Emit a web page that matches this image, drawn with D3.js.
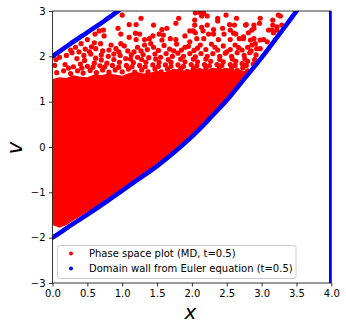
<!DOCTYPE html>
<html lang="en">
<head>
    <meta charset="UTF-8">
    <title>Phase space plot</title>
    <script src="https://cdnjs.cloudflare.com/ajax/libs/d3/7.8.5/d3.min.js"></script>
    <style>
        body{
            margin: 0;
            background: white;
            font-family: "DejaVu Sans", sans-serif;
        }
        .axis{
            font-family: "DejaVu Sans", sans-serif;
            font-size: 10px;
        }
        .axis text{
            fill: black;
        }
        .axis .tick line{
            stroke: black;
            stroke-width: .8;
        }
        .axis path{
            display: none;
        }
    </style>
</head>
<body>
<svg id="main" width="346" height="330" viewBox="0 0 346 330"></svg>
<script>
    const xTicks = [0, 0.5, 1, 1.5, 2, 2.5, 3, 3.5, 4];
    const vTicks = [-3, -2, -1, 0, 1, 2, 3];
    const legendLabels = ["Phase space plot (MD, t=0.5)", "Domain wall from Euler equation (t=0.5)"];

    // the solid part of the red cloud, read as x / lower edge / upper edge
    const coreX = [0, .1, .2, .3, .4, .5, .6, .7, .8, .9, 1, 1.1, 1.2, 1.3, 1.4, 1.5, 1.6, 1.7, 1.8, 1.9, 2, 2.1, 2.2, 2.3, 2.4, 2.5, 2.6, 2.7, 2.8];
    const coreLow = [-1.72, -1.78, -1.72, -1.62, -1.53, -1.44, -1.34, -1.24, -1.13, -1.03, -.92, -.81, -.7, -.59, -.48, -.37, -.26, -.14, -.02, .11, .25, .42, .58, .74, .9, 1.07, 1.26, 1.44, 1.62];
    const coreHigh = [1.5, 1.54, 1.52, 1.58, 1.55, 1.54, 1.6, 1.58, 1.62, 1.6, 1.57, 1.63, 1.66, 1.62, 1.64, 1.68, 1.65, 1.7, 1.72, 1.68, 1.71, 1.74, 1.7, 1.75, 1.72, 1.74, 1.71, 1.7, 1.66];

    // single red dots above the solid part, by band
    const dotsLow = [[.06,1.64],[.16,1.68],[.26,1.62],[.36,1.68],[.44,1.63],[.54,1.69],[.63,1.64],[.72,1.7],[.81,1.65],[.9,1.7],[1,1.66],[1.09,1.72],[1.18,1.65],[1.28,1.7],[1.37,1.66],[1.47,1.72],[1.56,1.66],[1.65,1.72],[1.74,1.67],[1.84,1.73],[1.93,1.67],[2.02,1.73],[2.12,1.68],[2.2,1.74],[2.3,1.68],[2.39,1.74],[2.48,1.69],[2.57,1.74],[2.65,1.69],[2.73,1.75],[2.8,1.68],
        [.23,1.74],[.42,1.74],[.58,1.76],[.75,1.77],[.95,1.76],[1.14,1.77],[1.33,1.77],[1.52,1.78],[1.7,1.78],[1.88,1.78],[2.07,1.79],[2.25,1.79],[2.43,1.8],[2.62,1.8],[2.78,1.8]];
    const dotsMid = [[.03,1.8],[.18,1.82],[.3,1.77],[.4,1.83],[.5,1.78],[.6,1.85],[.68,1.79],[.78,1.85],[.86,1.8],[.96,1.87],[1.06,1.8],[1.16,1.86],[1.25,1.8],[1.34,1.87],[1.44,1.81],[1.53,1.87],[1.62,1.81],[1.7,1.87],[1.8,1.81],[1.9,1.88],[1.99,1.82],[2.08,1.88],[2.18,1.82],[2.27,1.89],[2.36,1.82],[2.45,1.88],[2.55,1.82],[2.63,1.89],[2.72,1.84],[2.8,1.89],[2.88,1.83],
        [.05,1.93],[.1,1.98],[.2,2.02],[.28,2.08],[.35,1.95],[.45,2.02],[.55,2.05],[.62,1.96],[.7,2.03],[.8,2],[.88,2.05],[.97,2.02],[1.05,1.95],[1.13,2.03],[1.22,1.98],[1.3,2.04],[1.38,1.97],[1.47,2.05],[1.55,1.98],[1.63,2.06],[1.72,2],[1.8,2.07],[1.88,2],[1.97,2.06],[2.05,1.99],[2.13,2.06],[2.22,2],[2.3,2.06],[2.4,2],[2.48,2.07],[2.57,2],[2.65,2.08],[2.75,2.02],[2.83,2.08],[2.92,2.03],
        [.46,1.91],[.7,1.92],[.88,1.93],[1.12,1.94],[1.28,1.93],[1.48,1.94],[1.66,1.93],[1.84,1.94],[2.02,1.94],[2.2,1.94],[2.4,1.93],[2.58,1.94],[2.76,1.94],[2.9,1.93]];
    const dotsHigh = [[.26,2.14],[.38,2.1],[.33,2.2],[.41,2.28],[.5,2.37],[.53,2.1],[.56,2.21],[.6,2.3],[.62,2.17],[.61,2.49],[.69,2.28],[.72,2.12],[.81,2.14],[.84,2.25],[.91,2.17],[.98,2.28],[1.03,2.23],[1.08,2.12],[1.17,2.1],[1.27,2.12],[1.32,2.25],[1.36,2.15],[1.41,2.28],
        [1.45,2.2],[1.52,2.13],[1.6,2.24],[1.68,2.16],[1.78,2.27],[1.85,2.14],[1.95,2.22],[2.03,2.13],[2.12,2.25],[2.2,2.15],[2.28,2.27],[2.37,2.14],[2.45,2.23],[2.55,2.15],[2.62,2.25],[2.72,2.14],[2.8,2.2],[2.86,2.25],[2.91,2.28],[2.93,2.17],[2.98,2.17],[1.97,2.32],[1.32,2.37],[1.2,2.37],[1.39,2.39],
        [1.74,2.12],[1.9,2.2],[2.08,2.18],[2.33,2.2],[2.5,2.1],[2.67,2.19],[2.85,2.12],[.95,2.1],[1.22,2.2],[.47,2.16]];
    const dotsTop = [[.67,2.56],[.73,2.58],[.74,2.45],[.94,2.62],[.98,2.49],[1,2.91],[1.1,2.7],[1.1,2.42],[1.19,2.51],[1.2,2.7],[1.25,2.49],[1.27,2.84],
        [1.44,2.45],[1.45,2.69],[1.53,2.49],[1.57,2.59],[1.57,2.36],[1.59,2.47],[1.64,2.62],[1.69,2.39],[1.77,2.37],[1.77,2.73],[1.81,2.84],[1.9,2.45],[1.97,2.56],[2.02,2.56],[2.04,2.69],[2.04,2.8],[2.05,2.96],[2.05,2.52],[2.07,2.39],[2.12,2.96],[2.14,2.89],[2.14,2.64],[2.16,2.56],[2.17,2.95],[2.17,2.39],[2.22,2.89],[2.22,2.69],[2.24,2.49],[2.31,2.59],[2.31,2.49],[2.37,2.84],[2.37,2.78],[2.38,2.37],[2.44,2.62],[2.46,2.49],[2.49,2.91],[2.54,2.7],[2.55,2.58],[2.55,2.37],[2.6,2.51],[2.61,2.69],[2.63,2.49],[2.64,2.84],[2.68,2.39],[2.74,2.39],[2.77,2.69],[2.78,2.7],[2.81,2.52],[2.86,2.58],[2.89,2.69],[2.89,2.62],[2.89,2.39],[2.84,2.36],[2.74,2.43],[2.97,2.73],[2.98,2.84],[2.98,2.36],[3.03,2.37],[3.08,2.32],[3.1,2.58],[3.15,2.58],[3.16,2.8],[3.16,2.69],[3.17,2.52],[3.22,2.65],[3.22,2.58],[3.24,2.91],[3.27,2.89],[3.29,2.69]];

    // domain wall
    const wallLowX = [0, 0.1, 0.25, 0.5, 0.75, 1, 1.25, 1.5, 1.75, 2, 2.12, 2.25, 2.5, 2.74, 3, 3.25, 3.51];
    const wallLowV = [-2, -1.9, -1.74, -1.49, -1.23, -0.96, -0.69, -0.42, -0.11, 0.23, 0.41, 0.62, 1.03, 1.48, 1.97, 2.48, 3.02];
    const wallHighX = [0, 0.25, 0.5, 0.75, 0.95];
    const wallHighV = [2, 2.27, 2.53, 2.79, 3.01];
    const wallEdgeX = [4, 4];
    const wallEdgeV = [-3, 3];

    const margin = {top: 11, bottom: 47, left: 52.5, right: 14.7};
    const width = 346, height = 330;

    const xScale = d3.scaleLinear().domain([0, 4]).range([margin.left, width - margin.right]);
    const yScale = d3.scaleLinear().domain([-3, 3]).range([height - margin.bottom, margin.top]);

    const svg = d3.select("svg#main");

    svg.append("clipPath").attr("id", "plotClip")
        .append("rect")
        .attr("x", margin.left)
        .attr("y", margin.top)
        .attr("width", width - margin.left - margin.right + .5)
        .attr("height", height - margin.top - margin.bottom);

    const plot = svg.append("g").attr("clip-path", "url(#plotClip)");

    // red cloud
    const area = d3.area()
        .x((_, i) => xScale(coreX[i]))
        .y0(d => yScale(d))
        .y1((_, i) => yScale(coreHigh[i]));
    plot.append("path")
        .datum(coreLow)
        .attr("fill", "#ff0000")
        .attr("d", area);

    plot.append("g").selectAll("circle")
        .data([...dotsLow, ...dotsMid, ...dotsHigh, ...dotsTop])
        .join("circle")
        .attr("cx", d => xScale(d[0]))
        .attr("cy", d => yScale(d[1]))
        .attr("r", 2.6)
        .attr("fill", "#ff0000");

    // blue walls
    const walls = [[wallLowX, wallLowV], [wallHighX, wallHighV], [wallEdgeX, wallEdgeV]];
    const wallLine = d3.line()
        .x(d => xScale(d[0]))
        .y(d => yScale(d[1]))
        .curve(d3.curveCatmullRom);
    walls.forEach(w => {
        plot.append("path")
            .datum(w[0].map((x, i) => [x, w[1][i]]))
            .attr("fill", "none")
            .attr("stroke", "#0000ff")
            .attr("stroke-width", 4.6)
            .attr("stroke-linecap", "round")
            .attr("stroke-linejoin", "round")
            .attr("d", wallLine);
    });

    // axes
    const xAxis = d3.axisBottom(xScale)
        .tickValues(xTicks)
        .tickFormat(d3.format(".1f"))
        .tickSize(3.5)
        .tickPadding(3.5);
    const yAxis = d3.axisLeft(yScale)
        .tickValues(vTicks)
        .tickFormat(d => d < 0 ? "\u2212" + Math.abs(d) : d)
        .tickSize(3.5)
        .tickPadding(3.5);
    svg.append("g").attr("class", "axis")
        .attr("transform", `translate(0,${height - margin.bottom})`)
        .call(xAxis);
    svg.append("g").attr("class", "axis")
        .attr("transform", `translate(${margin.left},0)`)
        .call(yAxis);

    // spines on the left, bottom and top, drawn over the marks
    const spines = [
        [margin.left, margin.top, margin.left, height - margin.bottom],
        [margin.left, height - margin.bottom, width - margin.right, height - margin.bottom],
        [margin.left, margin.top, width - margin.right, margin.top]
    ];
    svg.append("g").selectAll("line")
        .data(spines)
        .join("line")
        .attr("x1", d => d[0])
        .attr("y1", d => d[1])
        .attr("x2", d => d[2])
        .attr("y2", d => d[3])
        .attr("stroke", "black")
        .attr("stroke-width", .8);

    // axis names
    svg.append("text")
        .attr("x", 190.5)
        .attr("y", 319)
        .attr("text-anchor", "middle")
        .attr("font-style", "italic")
        .attr("font-size", 20)
        .text("x");
    svg.append("text")
        .attr("transform", "translate(22,148) rotate(-90)")
        .attr("text-anchor", "middle")
        .attr("font-style", "italic")
        .attr("font-size", 21)
        .text("v");

    // legend
    const legend = svg.append("g");
    legend.append("rect")
        .attr("x", 57.5)
        .attr("y", 245.5)
        .attr("width", 238.5)
        .attr("height", 33)
        .attr("rx", 2)
        .attr("fill", "white")
        .attr("fill-opacity", .8)
        .attr("stroke", "#cccccc")
        .attr("stroke-width", 1);
    const legendColors = ["#ff0000", "#0000ff"];
    const legendRows = legend.selectAll(".row")
        .data(legendLabels)
        .join("g")
        .attr("class", "row")
        .attr("transform", (_, i) => `translate(0,${253.5 + i * 15})`);
    legendRows.append("circle")
        .attr("cx", 71)
        .attr("r", 2)
        .attr("fill", (_, i) => legendColors[i]);
    legendRows.append("text")
        .attr("x", 89)
        .attr("dy", "0.36em")
        .attr("font-size", 10)
        .text(d => d);
</script>
</body>
</html>
